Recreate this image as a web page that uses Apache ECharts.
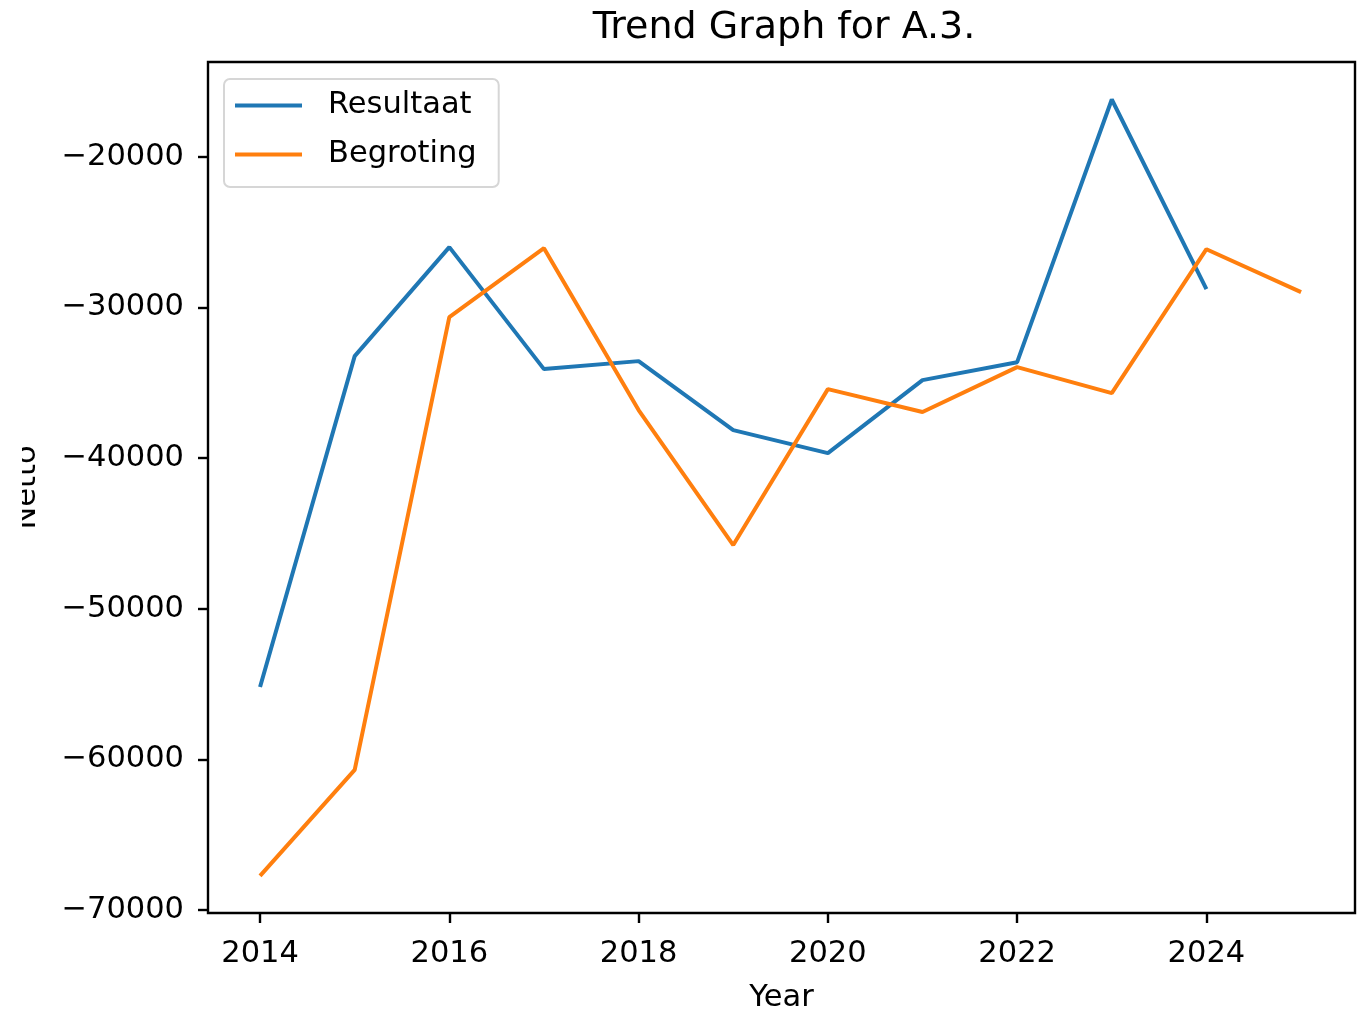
<!DOCTYPE html>
<html>
<head>
<meta charset="utf-8">
<title>Trend Graph for A.3.</title>
<script src="https://cdn.jsdelivr.net/npm/echarts@6/dist/echarts.min.js"></script>
<style>
  html, body { margin: 0; padding: 0; background: #fff; }
  #chart { width: 1362px; height: 1009px; }
</style>
</head>
<body>
<div id="chart"></div>
<script>
// data
const years = [2014, 2015, 2016, 2017, 2018, 2019, 2020, 2021, 2022, 2023, 2024, 2025]
const resultaat = [-55200, -33230, -25990, -34090, -33560, -38140, -39670, -34820, -33630, -16190, -28780]
const begroting = [-67740, -60700, -30640, -26060, -36810, -45770, -35420, -36940, -33960, -35680, -26130, -28980]
const xTicks = [2014, 2016, 2018, 2020, 2022, 2024]
const yTicks = [-70000, -60000, -50000, -40000, -30000, -20000]

const font = 'DejaVu Sans'
const fs = 30.5
const toPairs = vals => vals.map((v, i) => [years[i], v])

const chart = echarts.init(document.getElementById('chart'))
const option = {
  animation: false,
  backgroundColor: '#fff',
  title: {
    text: 'Trend Graph for A.3.',
    left: 779,
    textAlign: 'center',
    top: 4,
    textStyle: { fontFamily: font, fontSize: 38, fontWeight: 'normal', color: '#000' }
  },
  legend: {
    orient: 'vertical',
    left: 224,
    top: 79,
    padding: [11, 22, 17, 11],
    itemWidth: 67,
    itemHeight: 4,
    itemGap: 18,
    icon: 'rect',
    backgroundColor: '#fff',
    borderColor: '#d6d6d6',
    borderWidth: 2,
    borderRadius: 6,
    textStyle: { fontFamily: font, fontSize: fs, color: '#000', lineHeight: 30, padding: [0, 0, 0, 21] },
    data: ['Resultaat', 'Begroting']
  },
  grid: {
    left: 208, top: 62, right: 7, bottom: 96,
    show: true, borderColor: '#000', borderWidth: 2.4,
    containLabel: false,
    outerBoundsMode: 'none'
  },
  // the y-axis title is cut off at the left edge in the original figure
  graphic: [{
    type: 'rect',
    left: 0, top: 430,
    shape: { width: 22, height: 130 },
    style: { fill: '#fff' },
    z: 100
  }],
  xAxis: {
    type: 'value',
    min: 2013.45,
    max: 2025.57,
    name: 'Year',
    nameLocation: 'middle',
    nameGap: 70,
    nameTextStyle: { fontFamily: font, fontSize: fs, color: '#000' },
    axisLine: { show: false },
    splitLine: { show: false },
    axisTick: { show: true, length: 10, customValues: xTicks, lineStyle: { color: '#000', width: 2.4 } },
    axisLabel: {
      customValues: xTicks, margin: 26,
      fontFamily: font, fontSize: fs, color: '#000',
      formatter: v => String(v)
    }
  },
  yAxis: {
    type: 'value',
    min: -70200,
    max: -13700,
    name: 'Netto',
    nameLocation: 'middle',
    nameRotate: 90,
    nameGap: 165,
    nameTextStyle: { fontFamily: font, fontSize: fs, color: '#000' },
    axisLine: { show: false },
    splitLine: { show: false },
    axisTick: { show: true, length: 10, customValues: yTicks, lineStyle: { color: '#000', width: 2.4 } },
    axisLabel: {
      customValues: yTicks, margin: 24,
      fontFamily: font, fontSize: fs, color: '#000',
      formatter: v => String(v).replace('-', '\u2212')
    }
  },
  series: [
    {
      name: 'Resultaat',
      type: 'line',
      data: toPairs(resultaat),
      symbol: 'none',
      color: '#1f77b4',
      lineStyle: { width: 4, color: '#1f77b4' }
    },
    {
      name: 'Begroting',
      type: 'line',
      data: toPairs(begroting),
      symbol: 'none',
      color: '#ff7f0e',
      lineStyle: { width: 4, color: '#ff7f0e' }
    }
  ]
}
chart.setOption(option)
</script>
</body>
</html>
